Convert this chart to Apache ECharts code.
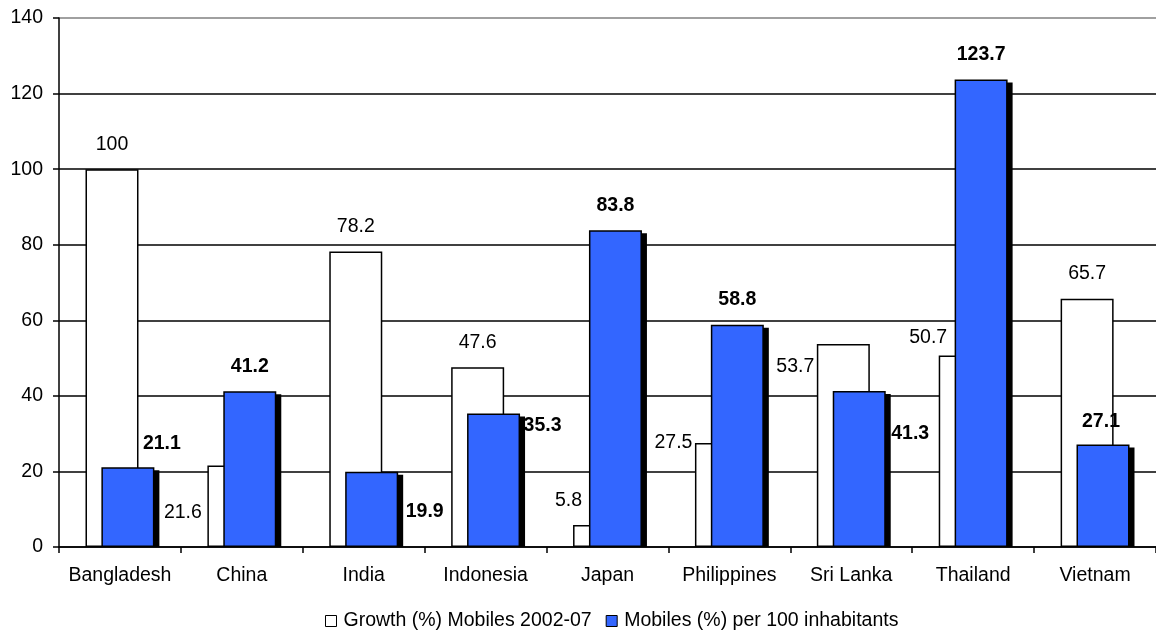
<!DOCTYPE html>
<html>
<head>
<meta charset="utf-8">
<script src="https://cdn.jsdelivr.net/npm/echarts@6/dist/echarts.min.js"></script>
<style>
  html, body { margin: 0; padding: 0; background: #fff; }
  #chart { width: 1156px; height: 635px; }
</style>
</head>
<body>
<div id="chart"></div>
<script>
// Countries along the category axis
const countries = ['Bangladesh', 'China', 'India', 'Indonesia', 'Japan', 'Philippines', 'Sri Lanka', 'Thailand', 'Vietnam'];

// Growth of mobile subscriptions, 2002-07 (%)
const growthValues = [100, 21.6, 78.2, 47.6, 5.8, 27.5, 53.7, 50.7, 65.7];

// Mobile subscriptions per 100 inhabitants (%)
const mobileValues = [21.1, 41.2, 19.9, 35.3, 83.8, 58.8, 41.3, 123.7, 27.1];

// Series names shown in the legend
const growthName = 'Growth (%) Mobiles 2002-07';
const mobileName = 'Mobiles (%) per 100 inhabitants';

// Value axis range
const yMin = 0;
const yMax = 140;
const yStep = 20;

// Hand-placed value labels: pixel nudges from the default spot above each bar
const growthLabelNudge = [[0, 0], [-51, 72], [0, 0], [0, 0], [-31, 1], [-48, 25], [-48, 48], [-37, 7], [0, 0]];
const mobileLabelNudge = [[34, 1], [0, 0], [53, 65], [49, 37], [0, 0], [0, 0], [51, 68], [0, 0], [-2, 2]];

const FONT = '"Liberation Sans", Arial, sans-serif';
const FONT_SIZE = 19.5;
const BAR_WIDTH = 53;
const BAR_GAP = '-70%';
const SHADOW_DX = 5;
const SHADOW_DY = 3;

function withLabels(values, nudges) {
  return values.map((v, i) => ({ value: v, label: { offset: nudges[i] } }));
}

const chart = echarts.init(document.getElementById('chart'), null, { renderer: 'canvas' });

// Split lines: black, except the top one which is grey
const splitColors = [];
for (let v = yMin; v <= yMax; v += yStep) splitColors.push(v === yMax ? '#808080' : '#000000');

// Solid drop shadow behind the blue bars, placed with the same bar layout
function renderShadow(params, api) {
  const idx = api.value(0);
  const val = api.value(1);
  const topPt = api.coord([idx, val]);
  const basePt = api.coord([idx, 0]);
  const layout = api.barLayout({ barWidth: BAR_WIDTH, barGap: BAR_GAP, count: 2 });
  const bar = layout[1];
  const x = topPt[0] + bar.offsetCenter - bar.width / 2 + SHADOW_DX;
  const y = topPt[1] + SHADOW_DY;
  return {
    type: 'rect',
    shape: { x: x, y: y, width: bar.width, height: basePt[1] - y },
    style: { fill: '#000000' },
    silent: true
  };
}

chart.setOption({
  animation: false,
  backgroundColor: '#ffffff',
  textStyle: { fontFamily: FONT, color: '#000' },
  grid: { left: 59, right: -3, top: 18, bottom: 88 },
  legend: {
    top: 606,
    left: 320,
    itemWidth: 11,
    itemHeight: 11,
    itemGap: 14,
    icon: 'rect',
    textStyle: { fontFamily: FONT, fontSize: FONT_SIZE, color: '#000', padding: [0, 0, 0, 2] },
    itemStyle: { borderColor: '#000', borderWidth: 1 },
    data: [growthName, mobileName]
  },
  xAxis: {
    type: 'category',
    data: countries,
    boundaryGap: true,
    axisLine: { lineStyle: { color: '#000', width: 1.5 } },
    axisTick: { show: true, length: 6, alignWithLabel: false, lineStyle: { color: '#000', width: 1.5 } },
    axisLabel: { fontFamily: FONT, fontSize: FONT_SIZE, color: '#000', margin: 19, interval: 0 },
    splitLine: { show: false }
  },
  yAxis: {
    type: 'value',
    min: yMin,
    max: yMax,
    interval: yStep,
    axisLine: { show: true, lineStyle: { color: '#000', width: 1.5 } },
    axisTick: { show: true, length: 6, lineStyle: { color: '#000', width: 1.5 } },
    axisLabel: { fontFamily: FONT, fontSize: FONT_SIZE, color: '#000', margin: 16 },
    splitLine: { show: true, lineStyle: { color: splitColors, width: 1.5 } }
  },
  series: [
    {
      name: growthName,
      type: 'bar',
      z: 2,
      barWidth: BAR_WIDTH,
      barGap: BAR_GAP,
      itemStyle: { color: '#ffffff', borderColor: '#000', borderWidth: 1.5 },
      label: {
        show: true,
        position: 'top',
        distance: 15,
        fontFamily: FONT,
        fontSize: FONT_SIZE,
        color: '#000'
      },
      data: withLabels(growthValues, growthLabelNudge)
    },
    {
      name: mobileName,
      type: 'bar',
      z: 4,
      barWidth: BAR_WIDTH,
      barGap: BAR_GAP,
      itemStyle: { color: '#3366ff', borderColor: '#000', borderWidth: 1.5 },
      label: {
        show: true,
        position: 'top',
        distance: 15,
        fontFamily: FONT,
        fontSize: FONT_SIZE,
        fontWeight: 'bold',
        color: '#000'
      },
      data: withLabels(mobileValues, mobileLabelNudge)
    },
    {
      name: 'mobileShadow',
      type: 'custom',
      z: 3,
      silent: true,
      renderItem: renderShadow,
      encode: { x: 0, y: 1 },
      data: mobileValues.map((v, i) => [i, v])
    }
  ]
});
</script>
</body>
</html>
